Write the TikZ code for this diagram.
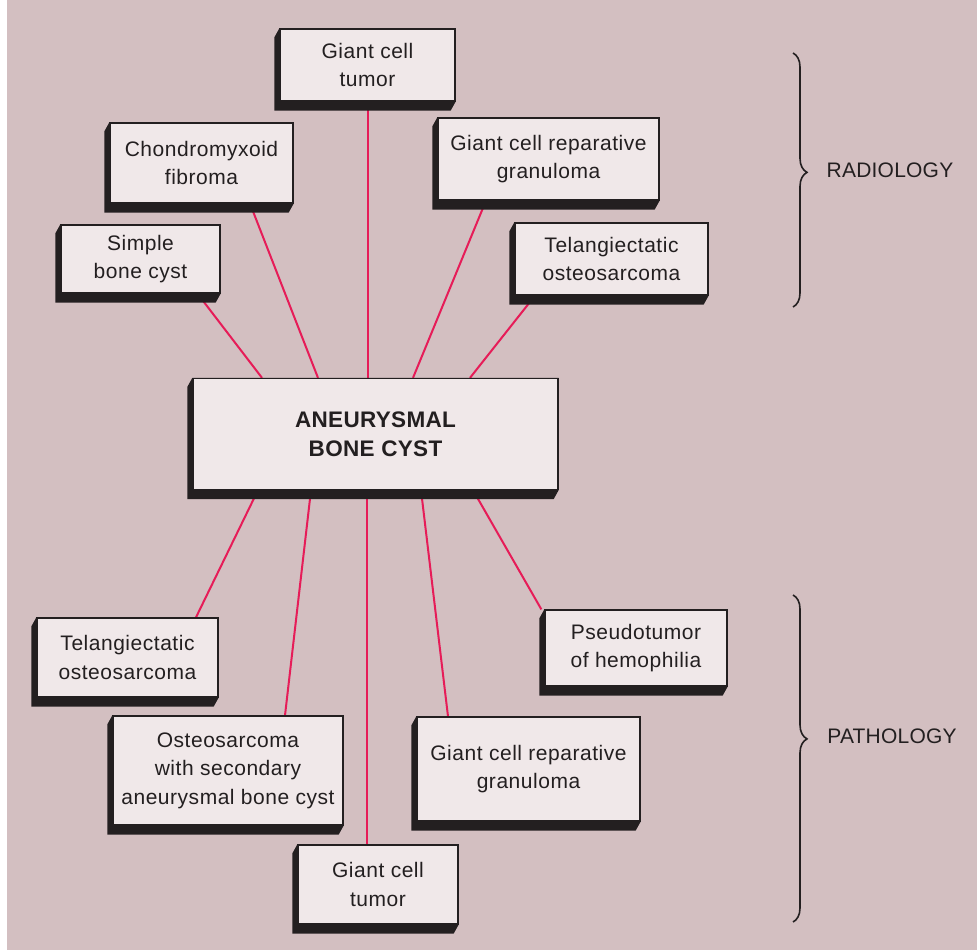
\documentclass[tikz,border=0pt]{standalone}
\usepackage{fontspec}
\setmainfont{Liberation Sans}
\usetikzlibrary{calc,decorations.pathreplacing}

\definecolor{paper}{RGB}{211,191,193}
\definecolor{face}{RGB}{240,232,233}
\definecolor{ink}{RGB}{35,31,32}
\definecolor{linkred}{RGB}{230,28,88}

\pgfdeclarelayer{bg}
\pgfdeclarelayer{links}
\pgfdeclarelayer{depth}
\pgfsetlayers{bg,links,depth,main}

% black extruded side of a box, towards the lower left
\newcommand\extrude[1]{%
  \fill[ink] (#1.north west) -- ++(-5,9) |- ($(#1.south east)+(-5,9)$)
    -- (#1.south east) -- (#1.north east) -- cycle;}

\begin{document}
\begin{tikzpicture}[x=1pt,y=-1pt,
  box/.style={draw=ink, line width=1.3pt, fill=face, align=center, text=ink,
    inner sep=0pt, font=\fontsize{21}{28.5}\selectfont\addfontfeature{LetterSpace=2.5}},
  hub/.style={box, font=\bfseries\fontsize{22.5}{29}\selectfont\addfontfeature{LetterSpace=1.5}},
  link/.style={draw=linkred, line width=2pt},
  group/.style={draw=ink, line width=1.6pt,
    decorate, decoration={brace, amplitude=14pt}},
  tag/.style={text=ink, font=\fontsize{21}{24}\selectfont\addfontfeature{LetterSpace=1}}]

\useasboundingbox (0,0) rectangle (977,950);
\begin{pgfonlayer}{bg}
  \fill[white] (0,0) rectangle (977,950);
  \fill[paper] (7,0) rectangle (977,950);
\end{pgfonlayer}

% central box
\node[hub, minimum width=365pt, minimum height=111pt] (abc) at (375.5,434)
  {ANEURYSMAL\\BONE CYST};

% radiology differentials
\node[box, minimum width=175pt, minimum height=72pt] (gcta) at (367.5,65) {Giant cell\\tumor};
\node[box, minimum width=183pt, minimum height=80pt] (cmf) at (201.5,163) {Chondromyxoid\\fibroma};
\node[box, minimum width=159pt, minimum height=68pt] (sbc) at (140.5,259) {Simple\\bone cyst};
\node[box, minimum width=221pt, minimum height=82pt] (gcrga) at (548.5,159) {Giant cell reparative\\granuloma};
\node[box, minimum width=193pt, minimum height=72pt] (tosa) at (611.5,259) {Telangiectatic\\osteosarcoma};

% pathology differentials
\node[box, minimum width=181pt, minimum height=79pt] (tosb) at (127.5,657.5) {Telangiectatic\\osteosarcoma};
\node[box, minimum width=230pt, minimum height=109pt] (osa) at (228,770.5) {Osteosarcoma\\with secondary\\aneurysmal bone cyst};
\node[box, minimum width=160pt, minimum height=79pt] (gctb) at (378,884.5) {Giant cell\\tumor};
\node[box, minimum width=223pt, minimum height=104pt] (gcrgb) at (528.5,769) {Giant cell reparative\\granuloma};
\node[box, minimum width=182pt, minimum height=76pt] (pth) at (636,648) {Pseudotumor\\of hemophilia};

\begin{pgfonlayer}{depth}
  \foreach \n in {abc,gcta,cmf,sbc,gcrga,tosa,tosb,osa,gctb,gcrgb,pth}
    {\extrude{\n}}
\end{pgfonlayer}

\begin{pgfonlayer}{links}
  \draw[link] (gcta.south) -- (gcta.south |- abc.north);
  \draw[link] ([xshift=48.5pt]cmf.south) -- ([xshift=-57.5pt]abc.north);
  \draw[link] ([xshift=57pt]sbc.south) -- ([xshift=-113.5pt]abc.north);
  \draw[link] ([xshift=-62.5pt]gcrga.south) -- ([xshift=37.5pt]abc.north);
  \draw[link] ([xshift=-76.5pt]tosa.south) -- ([xshift=94.5pt]abc.north);

  \draw[link] ([xshift=-117.5pt]abc.south) -- ([xshift=68.5pt]tosb.north);
  \draw[link] ([xshift=-64.5pt]abc.south) -- ([xshift=57pt]osa.north);
  \draw[link] ([xshift=-11pt]gctb.north) coordinate (gctbtop) -- (gctbtop |- abc.south);
  \draw[link] ([xshift=45.5pt]abc.south) -- ([xshift=-80.5pt]gcrgb.north);
  \draw[link] ([xshift=97.5pt]abc.south) -- ([xshift=-3pt]pth.north west);
\end{pgfonlayer}

% group braces
\coordinate (radtop) at (793,53);
\coordinate (radbot) at (793,307);
\coordinate (pattop) at (793,595);
\coordinate (patbot) at (793,922);
\draw[group, decoration={aspect=0.47}] (radtop) -- (radbot);
\draw[group, decoration={aspect=0.44}] (pattop) -- (patbot);
\node[tag] (rad) at (890,170) {RADIOLOGY};
\node[tag] (pat) at (892,736) {PATHOLOGY};

\end{tikzpicture}
\end{document}
